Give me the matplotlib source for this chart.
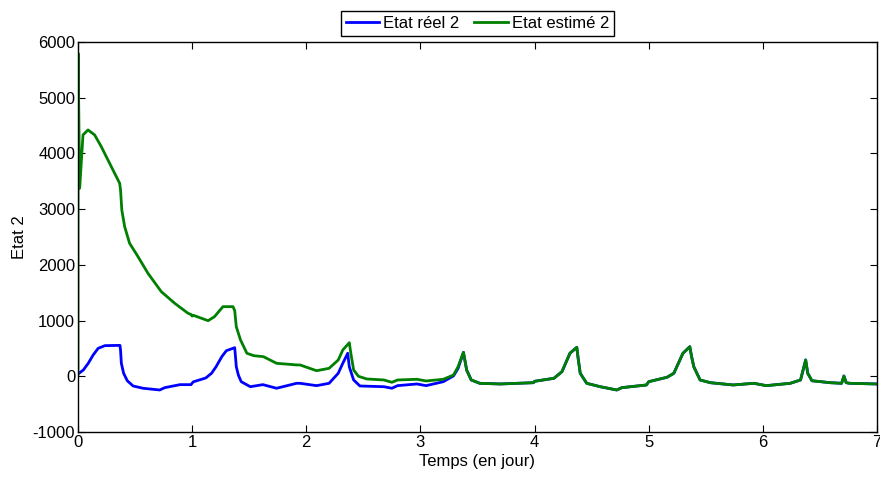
import matplotlib
matplotlib.use("Agg")
import matplotlib.pyplot as plt

plt.rcParams['font.family'] = ['Liberation Sans', 'DejaVu Sans']
plt.rcParams['axes.unicode_minus'] = False

# Time in days
t_real = [0.0, 0.047, 0.09, 0.133, 0.177, 0.236, 0.368, 0.373, 0.38, 0.4, 0.432, 0.483, 0.57, 0.716, 0.76,
          0.894, 0.99, 1.01, 1.12, 1.17, 1.21, 1.26, 1.3, 1.373, 1.38, 1.387, 1.405, 1.43, 1.51, 1.62,
          1.74, 1.915, 1.946, 2.09, 2.2, 2.28, 2.32, 2.363, 2.377, 2.415, 2.47, 2.68, 2.75, 2.8, 2.97,
          3.05, 3.2, 3.29, 3.33, 3.377, 3.405, 3.445, 3.52, 3.7, 3.99, 4.0, 4.17, 4.24, 4.31, 4.37,
          4.38, 4.4, 4.457, 4.575, 4.72, 4.765, 4.98, 5.0, 5.16, 5.22, 5.3, 5.36, 5.375, 5.395, 5.45,
          5.54, 5.74, 5.92, 6.03, 6.24, 6.33, 6.36, 6.375, 6.393, 6.43, 6.59, 6.69, 6.71, 6.73, 6.76,
          7.0]
real = [40, 113, 233, 382, 502, 550, 555, 470, 233, 54, -80, -174, -215, -246, -204,
        -150, -150, -100, -30, 54, 172, 352, 460, 513, 350, 172, 23, -97, -187, -150,
        -215, -126, -126, -168, -126, 54, 233, 413, 170, -66, -174, -187, -215, -168, -138,
        -168, -97, 7, 142, 430, 113, -66, -126, -138, -115, -90, -36, 83, 413, 520,
        350, 54, -126, -187, -246, -204, -156, -97, -18, 54, 413, 531, 360, 172, -66,
        -115, -156, -126, -168, -126, -66, 172, 293, 54, -80, -115, -126, 5, -115, -126,
        -138]

t_est = [0.0, 0.001, 0.015, 0.044, 0.088, 0.146, 0.204, 0.292, 0.365, 0.373, 0.384, 0.409, 0.452,
         0.526, 0.613, 0.73, 0.847, 0.964, 0.99, 1.0, 1.01, 1.14, 1.196, 1.27, 1.358, 1.373, 1.387,
         1.424, 1.48, 1.54, 1.625, 1.74, 1.915, 1.946, 2.09, 2.2, 2.28, 2.32, 2.377, 2.39, 2.415,
         2.457, 2.53, 2.68, 2.75, 2.8, 2.97, 3.05, 3.2, 3.29, 3.33, 3.377, 3.405, 3.445, 3.52, 3.7,
         3.99, 4.0, 4.17, 4.24, 4.31, 4.37, 4.38, 4.4, 4.457, 4.575, 4.72, 4.765, 4.98, 5.0, 5.16,
         5.22, 5.3, 5.36, 5.375, 5.395, 5.45, 5.54, 5.74, 5.92, 6.03, 6.24, 6.33, 6.36, 6.375,
         6.393, 6.43, 6.59, 6.69, 6.71, 6.73, 6.76, 7.0]
est = [40, 5800, 3375, 4332, 4422, 4332, 4122, 3763, 3465, 3345, 2986, 2686, 2388,
       2147, 1849, 1519, 1311, 1131, 1110, 1080, 1095, 998, 1070, 1250, 1250, 1180, 890,
       652, 413, 370, 352, 233, 204, 203, 100, 143, 292, 472, 603, 420, 113,
       0, -48, -66, -108, -66, -54, -84, -54, 23, 172, 430, 113, -66, -126, -138,
       -115, -90, -36, 83, 413, 520, 350, 54, -126, -187, -246, -204, -156, -97, -18,
       54, 413, 531, 360, 172, -66, -115, -156, -126, -168, -126, -66, 172, 293,
       54, -80, -115, -126, 5, -115, -126, -138]

x_ticks = [0, 1, 2, 3, 4, 5, 6, 7]
y_ticks = [-1000, 0, 1000, 2000, 3000, 4000, 5000, 6000]

fig = plt.figure(figsize=(8.8, 4.8), dpi=100)
ax = fig.add_axes([0.0886, 0.1, 0.908, 0.8125])
ax.plot(t_real, real, color=(0, 0, 1), lw=2.0, label='Etat réel 2')
ax.plot(t_est, est, color=(0, 0.5, 0), lw=2.0, label='Etat estimé 2')

ax.set_xlim(0, 7)
ax.set_ylim(-1000, 6000)
ax.set_xticks(x_ticks)
ax.set_yticks(y_ticks)
ax.tick_params(direction='in', top=True, right=True, labelsize=12, length=5, width=0.8,
               colors='black', pad=2)
for s in ax.spines.values():
    s.set_linewidth(1.0)
    s.set_color('black')
ax.set_xlabel('Temps (en jour)', fontsize=12, labelpad=3)
ax.set_ylabel('Etat 2', fontsize=12, labelpad=4)

leg = ax.legend(loc='lower center', bbox_to_anchor=(0.5, 1.0), ncol=2, fontsize=12,
                frameon=True, fancybox=False, framealpha=1, edgecolor='black',
                handlelength=2.0, handletextpad=0.25, columnspacing=0.9,
                borderpad=0.3, borderaxespad=0.35)
leg.get_frame().set_linewidth(1.0)

fig.savefig('out.png', dpi=100)
